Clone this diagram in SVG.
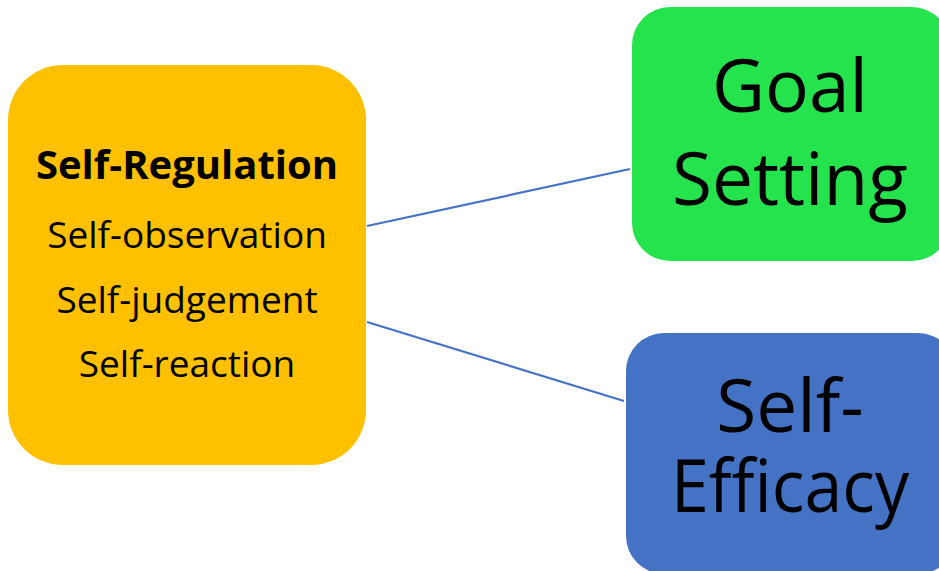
<svg xmlns="http://www.w3.org/2000/svg" width="939" height="571" viewBox="0 0 939 571">
<style>
.t{font-family:"Open Sans","Noto Sans",sans-serif;fill:#000;text-anchor:middle}
.sm{font-size:37px}
.bd{font-size:40px;font-weight:bold}
.big{font-size:73px}
.conn{stroke:#4472C4;stroke-width:2.2;fill:none}
</style>
<rect width="939" height="571" fill="#fff"/>
<g id="connectors">
<line class="conn" x1="367" y1="226" x2="630" y2="169"/>
<line class="conn" x1="367" y1="322" x2="624" y2="401"/>
</g>
<g id="self-regulation">
<rect x="8" y="65" width="358" height="400" rx="55" ry="55" fill="#FFC000"/>
<text class="t bd" x="187" y="179">Self-Regulation</text>
<text class="t sm" x="187" y="248">Self-observation</text>
<text class="t sm" x="187" y="313">Self-judgement</text>
<text class="t sm" x="187" y="377">Self-reaction</text>
</g>
<g id="goal-setting">
<rect x="632" y="7" width="318" height="254" rx="38" ry="38" fill="#24E34D"/>
<text class="t big" x="790" y="112">Goal</text>
<text class="t big" x="790" y="205">Setting</text>
</g>
<g id="self-efficacy">
<rect x="626" y="333" width="330" height="241" rx="38" ry="38" fill="#4472C4"/>
<text class="t big" x="790" y="432">Self-</text>
<text class="t big" x="790" y="512" textLength="238" lengthAdjust="spacingAndGlyphs">Efficacy</text>
</g>
</svg>
